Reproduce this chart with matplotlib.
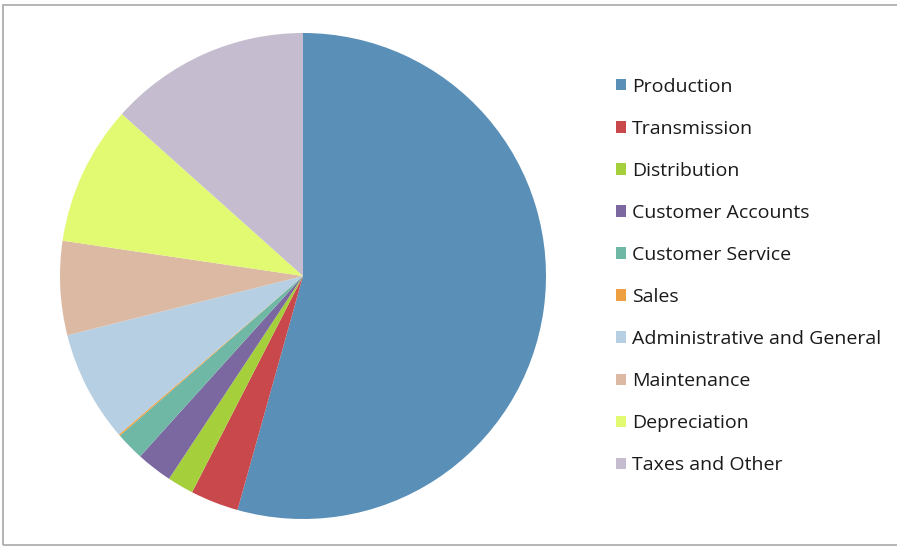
import matplotlib.pyplot as plt
from matplotlib.patches import Patch, Rectangle

categories = ['Production', 'Transmission', 'Distribution', 'Customer Accounts',
              'Customer Service', 'Sales', 'Administrative and General',
              'Maintenance', 'Depreciation', 'Taxes and Other']
shares = [54.4, 3.2, 1.75, 2.4, 1.9, 0.1, 7.4, 6.25, 9.3, 13.4]
colors = ['#5a8fb8', '#c9484b', '#a6cf3c', '#7b68a0', '#6fb8a6',
          '#eea040', '#b6cfe2', '#dcb9a2', '#e2fa72', '#c5bdcf']

plt.rcParams['font.family'] = ['Open Sans', 'DejaVu Sans']

fig = plt.figure(figsize=(8.97, 5.48), dpi=100)
fig.patch.set_facecolor('white')

# chart frame
fig.patches.append(Rectangle((3 / 897, 3 / 548), 900 / 897, 540 / 548,
                             transform=fig.transFigure, fill=False,
                             edgecolor='#a8a8a8', linewidth=1.2))

ax = fig.add_axes([60 / 897, 29 / 548, 486 / 897, 486 / 548])
ax.pie(shares, colors=colors, startangle=90, counterclock=False,
       radius=1.0, wedgeprops=dict(linewidth=0))
ax.set_xlim(-1, 1)
ax.set_ylim(-1, 1)
ax.set_aspect('equal')
ax.axis('off')

handles = [Patch(facecolor=c, edgecolor='none') for c in colors]
fig.legend(handles, categories, loc='upper left',
           bbox_to_anchor=(598 / 897, 1 - 60 / 548),
           frameon=False, fontsize=14, handlelength=0.55, handleheight=0.55,
           handletextpad=0.3, labelspacing=1.24, labelcolor='#1a1a1a')

fig.savefig('out.png', dpi=100)
